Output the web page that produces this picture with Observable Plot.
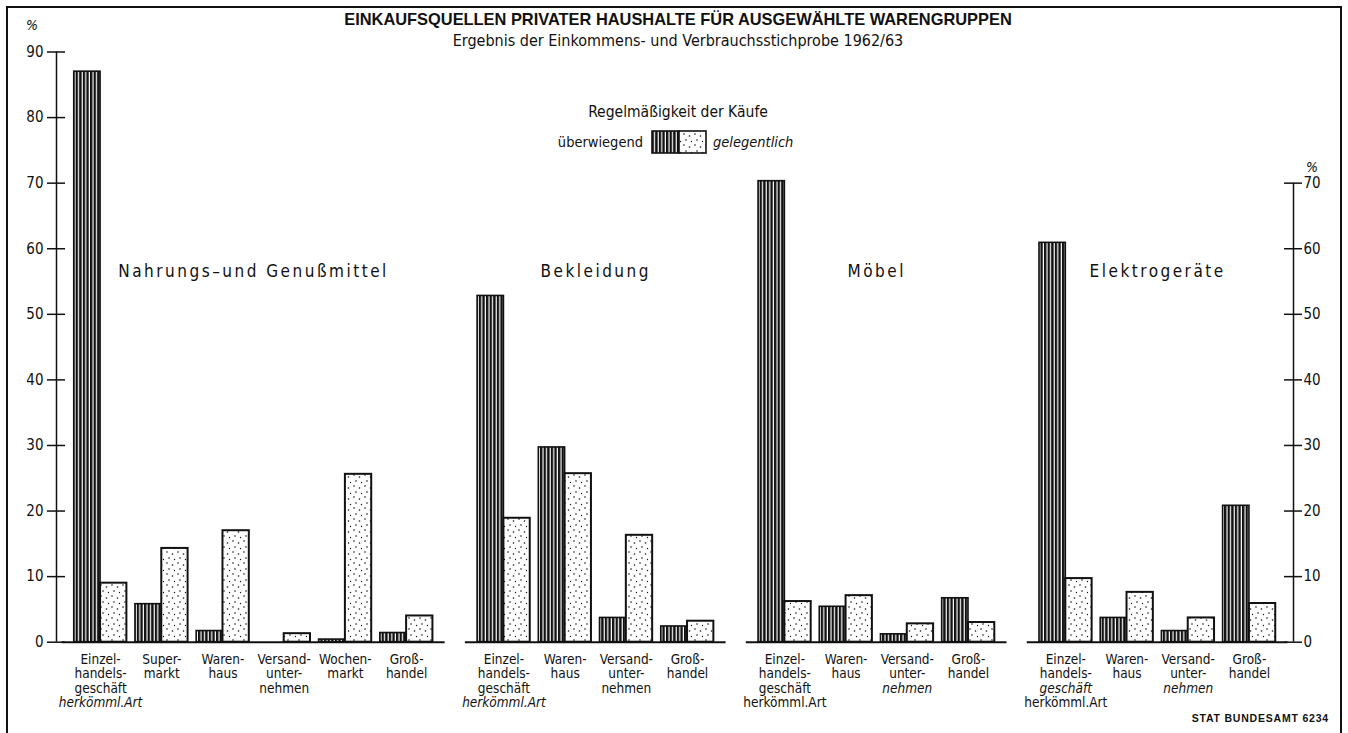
<!DOCTYPE html>
<html><head><meta charset="utf-8">
<script src="https://cdn.jsdelivr.net/npm/d3@7"></script>
<script src="https://cdn.jsdelivr.net/npm/@observablehq/plot@0.6"></script>
<style>
html,body{margin:0;padding:0;background:#fff;}
#chart{width:1348px;height:733px;overflow:hidden;}
</style></head><body><div id="chart"></div>
<script>
// ---------- data ----------
const groups = ["Nahrungs–und Genußmittel", "Bekleidung", "Möbel", "Elektrogeräte"];
const categoriesNahrung = ["Einzel-\nhandels-\ngeschäft\nherkömml.Art", "Super-\nmarkt", "Waren-\nhaus", "Versand-\nunter-\nnehmen", "Wochen-\nmarkt", "Groß-\nhandel"];
const categoriesBekleidung = ["Einzel-\nhandels-\ngeschäft\nherkömml.Art", "Waren-\nhaus", "Versand-\nunter-\nnehmen", "Groß-\nhandel"];
const categoriesMoebel = ["Einzel-\nhandels-\ngeschäft\nherkömml.Art", "Waren-\nhaus", "Versand-\nunter-\nnehmen", "Groß-\nhandel"];
const categoriesElektro = ["Einzel-\nhandels-\ngeschäft\nherkömml.Art", "Waren-\nhaus", "Versand-\nunter-\nnehmen", "Groß-\nhandel"];
const series = ["überwiegend", "gelegentlich"];
const ueberwiegendNahrung = [87.0, 5.8, 1.7, 0, 0.4, 1.4];
const gelegentlichNahrung = [9.0, 14.3, 17.0, 1.3, 25.6, 4.0];
const ueberwiegendBekleidung = [52.8, 29.7, 3.7, 2.4];
const gelegentlichBekleidung = [18.9, 25.7, 16.3, 3.2];
const ueberwiegendMoebel = [70.3, 5.4, 1.2, 6.7];
const gelegentlichMoebel = [6.2, 7.1, 2.8, 3.0];
const ueberwiegendElektro = [60.9, 3.7, 1.7, 20.8];
const gelegentlichElektro = [9.7, 7.6, 3.7, 5.9];
const leftTicks = [0, 10, 20, 30, 40, 50, 60, 70, 80, 90];
const rightTicks = [0, 10, 20, 30, 40, 50, 60, 70];
const title = "EINKAUFSQUELLEN PRIVATER HAUSHALTE FÜR AUSGEWÄHLTE WARENGRUPPEN";
const subtitle = "Ergebnis der Einkommens- und Verbrauchsstichprobe 1962/63";
const legendTitle = "Regelmäßigkeit der Käufe";
const source = "STAT BUNDESAMT 6234";

// ---------- style / layout constants ----------
const GAP = 0.59;      // extra space between groups (in category units)
const HALF = 0.43;     // width of one bar (in category units)
const EXT = 0.63;      // baseline extension beyond outer bar centres
const AXPAD = 0.72;    // distance from outer bars to the axes
// label lines printed in italics in the original: "groupIndex|categoryIndex|lineIndex"
const italicLines = new Set(["0|0|3", "1|0|3", "2|2|2", "3|0|2", "3|2|2"]);

const groupCats = [categoriesNahrung, categoriesBekleidung, categoriesMoebel, categoriesElektro];
const groupVals = [
  [ueberwiegendNahrung, gelegentlichNahrung],
  [ueberwiegendBekleidung, gelegentlichBekleidung],
  [ueberwiegendMoebel, gelegentlichMoebel],
  [ueberwiegendElektro, gelegentlichElektro]
];

const bars = [], cats = [], groupRows = [];
let start = 0;
groupCats.forEach((cs, gi) => {
  cs.forEach((c, ci) => {
    const pos = start + ci;
    cats.push({group: groups[gi], gi, ci, label: c, pos});
    series.forEach((s, si) => bars.push({group: groups[gi], cat: c, pos, series: s, si, value: groupVals[gi][si][ci]}));
  });
  groupRows.push({group: groups[gi], first: start, last: start + cs.length - 1});
  start += cs.length + GAP;
});
const lastPos = cats[cats.length - 1].pos;
const xLo = -AXPAD, xHi = lastPos + AXPAD;

const W = 1348, H = 733, mL = 56, mR = 55, mT = 51.5, mB = 91.3;
const font = "'DejaVu Sans Condensed', 'Liberation Sans Narrow', 'DejaVu Sans', sans-serif";

const chart = Plot.plot({
  width: W, height: H,
  marginLeft: mL, marginRight: mR, marginTop: mT, marginBottom: mB,
  style: {fontFamily: font, fontSize: "14px", color: "#111", background: "#fff"},
  x: {type: "linear", domain: [xLo, xHi], axis: null},
  y: {domain: [0, 90], axis: null},
  marks: [
    // bars
    Plot.rect(bars.filter(d => d.si === 0), {
      x1: d => d.pos - HALF, x2: d => d.pos, y1: 0, y2: "value",
      fill: "url(#stripes)", stroke: "#111", strokeWidth: 1.6
    }),
    Plot.rect(bars.filter(d => d.si === 1), {
      x1: d => d.pos, x2: d => d.pos + HALF, y1: 0, y2: "value",
      fill: "url(#dots)", stroke: "#111", strokeWidth: 2
    }),
    // group baselines
    Plot.ruleY(groupRows, {y: 0, x1: d => d.first - EXT, x2: d => d.last + EXT, stroke: "#111", strokeWidth: 2}),
    // axis lines
    Plot.ruleX([xLo], {x: d => d, y1: 0, y2: 90, stroke: "#111", strokeWidth: 1.5}),
    Plot.ruleX([xHi], {x: d => d, y1: 0, y2: 70, stroke: "#111", strokeWidth: 1.5}),
    // crossing ticks
    Plot.ruleY(leftTicks, {y: d => d, x1: xLo, x2: xLo, insetLeft: -9, insetRight: -9, stroke: "#111", strokeWidth: 1.5}),
    Plot.ruleY(rightTicks, {y: d => d, x1: xHi, x2: xHi, insetLeft: -9, insetRight: -9, stroke: "#111", strokeWidth: 1.5}),
    Plot.axisY({anchor: "left", ticks: leftTicks, tickSize: 0, tickPadding: 13, label: null, fontSize: 15}),
    Plot.axisY({anchor: "right", ticks: rightTicks, tickSize: 0, tickPadding: 10, label: null, fontSize: 15}),
    // category labels
    Plot.text(cats, {x: "pos", y: 0, text: "label", lineAnchor: "top", dy: 11, fontSize: 13.5, lineHeight: 1.08, fill: "#111"}),
    // group labels
    Plot.text(groupRows, {x: d => (d.first + d.last) / 2, frameAnchor: "top", dy: 213, text: "group", fontSize: 17, fill: "#111"})
  ]
});

document.getElementById("chart").appendChild(chart);

// ---------- decorations ----------
const svg = d3.select(chart);
svg.selectAll("text").filter(function () { return groups.includes(this.textContent); })
  .attr("letter-spacing", "2.5px");
// italic lines in category labels (multi-line texts are the category labels, in data order)
svg.selectAll("text").filter(function () { return this.querySelector("tspan"); })
  .each(function (_, i) {
    const c = cats[i];
    if (!c) return;
    d3.select(this).selectAll("tspan").each(function (_, li) {
      if (italicLines.has(`${c.gi}|${c.ci}|${li}`)) d3.select(this).attr("font-style", "italic");
    });
  });
const defs = svg.insert("defs", ":first-child");
const st = defs.append("pattern").attr("id", "stripes").attr("patternUnits", "userSpaceOnUse").attr("width", 3.6).attr("height", 10);
st.append("rect").attr("width", 3.6).attr("height", 10).attr("fill", "#fff");
st.append("rect").attr("width", 2.4).attr("height", 10).attr("fill", "#111");
const dt = defs.append("pattern").attr("id", "dots").attr("patternUnits", "userSpaceOnUse").attr("width", 11).attr("height", 11);
dt.append("rect").attr("width", 11).attr("height", 11).attr("fill", "#fff");
[[2, 2, 0.8], [7.5, 4, 0.8], [4, 8, 0.8], [9.5, 9.5, 0.65]].forEach(([cx, cy, r]) =>
  dt.append("circle").attr("cx", cx).attr("cy", cy).attr("r", r).attr("fill", "#111"));

const g = svg.append("g").attr("fill", "#111").attr("font-family", font);
g.append("text").attr("x", 678).attr("y", 25).attr("text-anchor", "middle")
  .attr("font-family", "'Liberation Sans', 'DejaVu Sans', sans-serif").attr("font-weight", "bold").attr("font-size", 16.4).text(title);
g.append("text").attr("x", 678).attr("y", 46).attr("text-anchor", "middle").attr("font-size", 16).text(subtitle);
g.append("text").attr("x", 678).attr("y", 117).attr("text-anchor", "middle").attr("font-size", 15.5).text(legendTitle);
g.append("text").attr("x", 643).attr("y", 147).attr("text-anchor", "end").attr("font-size", 14.5).text(series[0]);
g.append("text").attr("x", 713).attr("y", 147).attr("text-anchor", "start").attr("font-size", 14.5).attr("font-style", "italic").text(series[1]);
g.append("rect").attr("x", 652).attr("y", 131).attr("width", 27).attr("height", 22).attr("fill", "url(#stripes)").attr("stroke", "#111").attr("stroke-width", 1.6);
g.append("rect").attr("x", 679).attr("y", 131).attr("width", 27).attr("height", 22).attr("fill", "url(#dots)").attr("stroke", "#111").attr("stroke-width", 1.6);
g.append("text").attr("x", 32).attr("y", 30).attr("text-anchor", "middle").attr("font-size", 14).attr("font-style", "italic").text("%");
g.append("text").attr("x", 1312).attr("y", 172).attr("text-anchor", "middle").attr("font-size", 14).attr("font-style", "italic").text("%");
g.append("text").attr("x", 1329).attr("y", 722).attr("text-anchor", "end")
  .attr("font-family", "'Liberation Sans', 'DejaVu Sans', sans-serif").attr("font-weight", "bold").attr("font-size", 10.5).attr("letter-spacing", "0.8px").text(source);
svg.append("path").attr("d", "M7,740V7H1341V740").attr("fill", "none").attr("stroke", "#111").attr("stroke-width", 2);
</script></body></html>
